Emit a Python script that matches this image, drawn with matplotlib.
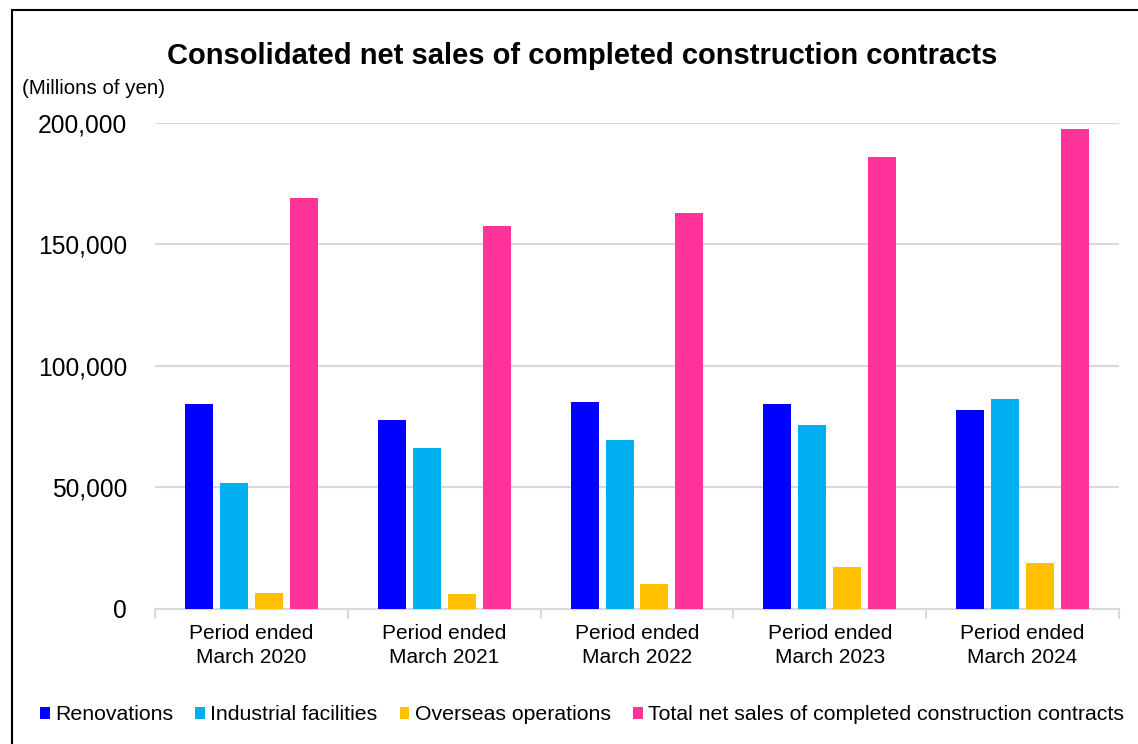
import numpy as np
import matplotlib
matplotlib.use('Agg')
import matplotlib.pyplot as plt
from matplotlib.patches import Rectangle
from matplotlib.ticker import FuncFormatter

periods = ['Period ended\nMarch 2020', 'Period ended\nMarch 2021', 'Period ended\nMarch 2022',
           'Period ended\nMarch 2023', 'Period ended\nMarch 2024']
series_names = ['Renovations', 'Industrial facilities', 'Overseas operations',
                'Total net sales of completed construction contracts']
renovations = [84400, 77800, 85200, 84400, 81900]
industrial = [51900, 66300, 69500, 75700, 86400]
overseas = [6600, 6200, 10300, 17300, 18900]
total = [169100, 157600, 163000, 186000, 197500]
colors = ['#0000FF', '#00B0F0', '#FFC000', '#FF3399']

plt.rcParams['font.family'] = ['Liberation Sans', 'DejaVu Sans']

fig = plt.figure(figsize=(11.38, 7.44), dpi=100)
ax = fig.add_axes([155 / 1138, 1 - 609 / 744, (1119 - 155) / 1138, (609 - 122.7) / 744])

# outer frame, right and bottom edges fall outside the image
fig.patches.append(Rectangle((12 / 1138, -1), 2, 2 - 10 / 744, transform=fig.transFigure,
                             fill=False, edgecolor='black', linewidth=1.5))

x = np.arange(len(periods))
width = 0.145
step = 0.181
for i, (vals, name) in enumerate(zip([renovations, industrial, overseas, total], series_names)):
    ax.bar(x + (i - 1.5) * step, vals, width, color=colors[i], label=name, zorder=3)

ax.set_xlim(-0.5, len(periods) - 0.5)
ax.set_ylim(0, 200000)
ax.set_yticks(np.arange(0, 200001, 50000))
ax.yaxis.set_major_formatter(FuncFormatter(lambda v, p: f'{int(v):,}'))
ax.grid(axis='y', color='#d9d9d9', linewidth=1.5, zorder=0)
for s in ['left', 'right', 'top']:
    ax.spines[s].set_visible(False)
ax.spines['bottom'].set_color('#d9d9d9')
ax.spines['bottom'].set_linewidth(1.5)
ax.tick_params(axis='y', length=0, labelsize=17.7, pad=20)

ax.set_xticks(np.arange(-0.5, len(periods), 1.0))
ax.set_xticklabels([])
ax.tick_params(axis='x', which='major', length=7, width=1.5, color='#d9d9d9')
ax.set_xticks(x, minor=True)
ax.set_xticklabels(periods, minor=True, fontsize=15, linespacing=1.3)
ax.tick_params(axis='x', which='minor', length=0, pad=11)

fig.text(582 / 1138, 1 - 56 / 744, 'Consolidated net sales of completed construction contracts',
         ha='center', va='center', fontsize=21, fontweight='bold')
fig.text(22 / 1138, 1 - 88 / 744, '(Millions of yen)', ha='left', va='center', fontsize=14.8)

fig.legend(loc='center', bbox_to_anchor=(582 / 1138, 1 - 715 / 744), ncol=4, frameon=False,
           fontsize=15.3, handlelength=0.45, handleheight=0.45, handletextpad=0.25,
           columnspacing=1.05, borderaxespad=0)

fig.savefig('out.png', dpi=100)
